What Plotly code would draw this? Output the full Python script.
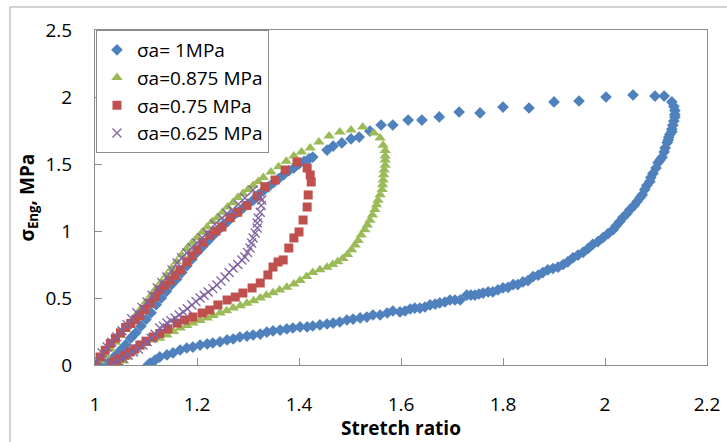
import plotly.graph_objects as go

# ---------------- data ----------------
names = ["σa= 1MPa", "σa=0.875 MPa", "σa=0.75 MPa", "σa=0.625 MPa"]

x_1mpa = [1.000,1.010,1.020,1.030,1.040,1.050,1.060,1.070,1.080,1.090,1.100,1.110,1.120,1.130,1.140,1.150,1.160,1.170,1.180,1.190,
          1.200,1.210,1.220,1.230,1.240,1.250,1.260,1.270,1.280,1.290,1.300,1.310,1.320,1.330,1.340,1.350,1.360,1.370,1.380,1.390,
          1.400,1.410,1.420,1.427,1.455,1.467,1.484,1.502,1.518,1.539,1.561,1.584,1.614,1.641,1.675,1.714,1.755,1.800,1.851,1.900,
          1.949,2.002,2.055,2.098,2.116,2.131,2.135,2.137,2.137,2.137,2.135,2.133,2.131,2.131,2.127,2.125,2.124,2.122,2.118,2.116,
          2.112,2.108,2.104,2.100,2.094,2.090,2.088,2.082,2.078,2.073,2.069,2.063,2.057,2.049,2.043,2.035,2.029,2.022,2.016,2.006,
          1.996,1.986,1.976,1.967,1.957,1.947,1.937,1.927,1.918,1.908,1.898,1.888,1.878,1.869,1.859,1.849,1.839,1.829,1.820,1.810,
          1.800,1.790,1.780,1.771,1.761,1.753,1.745,1.737,1.729,1.716,1.706,1.696,1.686,1.676,1.667,1.657,1.647,1.637,1.627,1.618,
          1.608,1.598,1.584,1.573,1.559,1.545,1.533,1.520,1.506,1.494,1.480,1.467,1.455,1.441,1.427,1.416,1.402,1.388,1.376,1.363,
          1.349,1.337,1.324,1.310,1.298,1.284,1.271,1.259,1.245,1.231,1.220,1.206,1.192,1.180,1.167,1.153,1.141,1.127,1.118,1.108,1.104]
y_1mpa = [0.000,0.000,0.010,0.030,0.070,0.110,0.150,0.200,0.240,0.290,0.340,0.390,0.450,0.500,0.550,0.600,0.640,0.690,0.740,0.790,
          0.840,0.880,0.920,0.960,1.000,1.040,1.070,1.110,1.140,1.170,1.200,1.230,1.270,1.300,1.330,1.360,1.390,1.420,1.450,1.470,
          1.500,1.520,1.540,1.552,1.604,1.634,1.657,1.687,1.701,1.746,1.791,1.791,1.828,1.828,1.851,1.888,1.881,1.925,1.918,1.963,
          1.970,2.000,2.015,2.007,2.007,1.963,1.930,1.900,1.870,1.850,1.820,1.790,1.760,1.740,1.720,1.700,1.680,1.660,1.620,1.590,
          1.550,1.530,1.510,1.470,1.430,1.400,1.370,1.340,1.310,1.270,1.250,1.220,1.190,1.160,1.130,1.100,1.070,1.040,1.010,0.980,
          0.950,0.920,0.900,0.870,0.840,0.820,0.800,0.770,0.750,0.730,0.720,0.710,0.690,0.670,0.660,0.630,0.620,0.600,0.600,0.580,
          0.575,0.560,0.545,0.545,0.537,0.530,0.522,0.522,0.522,0.485,0.485,0.485,0.470,0.463,0.455,0.448,0.433,0.425,0.425,0.418,
          0.403,0.396,0.403,0.388,0.373,0.373,0.358,0.351,0.343,0.336,0.321,0.313,0.306,0.299,0.291,0.284,0.284,0.276,0.269,0.261,
          0.254,0.246,0.231,0.224,0.216,0.209,0.194,0.187,0.172,0.164,0.157,0.149,0.134,0.127,0.112,0.090,0.075,0.060,0.037,0.015,0.000]

x_0875 = [1.000,1.010,1.020,1.030,1.040,1.050,1.060,1.070,1.080,1.090,1.100,1.110,1.120,1.130,1.140,1.150,1.160,1.170,1.180,1.190,
          1.200,1.210,1.220,1.230,1.240,1.250,1.260,1.270,1.280,1.290,1.300,1.310,1.320,1.330,1.345,1.360,1.375,1.390,1.405,1.422,
          1.439,1.459,1.480,1.502,1.525,1.547,1.559,1.565,1.569,1.569,1.569,1.569,1.567,1.566,1.565,1.564,1.563,1.559,1.555,1.552,
          1.549,1.544,1.539,1.534,1.529,1.522,1.516,1.510,1.503,1.495,1.486,1.476,1.466,1.455,1.441,1.427,1.415,1.402,1.390,1.376,
          1.362,1.349,1.336,1.324,1.311,1.298,1.285,1.271,1.258,1.245,1.232,1.220,1.206,1.192,1.180,1.167,1.154,1.141,1.127,1.114,
          1.100,1.088,1.075,1.063,1.056,1.049]
y_0875 = [0.000,0.030,0.070,0.120,0.170,0.220,0.270,0.320,0.370,0.420,0.470,0.520,0.570,0.620,0.670,0.720,0.770,0.820,0.870,0.910,
          0.950,0.990,1.030,1.070,1.100,1.140,1.180,1.210,1.250,1.280,1.310,1.340,1.370,1.400,1.440,1.480,1.520,1.560,1.590,1.620,
          1.664,1.709,1.739,1.754,1.776,1.731,1.694,1.640,1.600,1.560,1.530,1.490,1.455,1.420,1.380,1.345,1.310,1.270,1.230,1.195,
          1.160,1.120,1.080,1.045,1.010,0.970,0.930,0.895,0.860,0.825,0.795,0.770,0.750,0.730,0.710,0.690,0.660,0.630,0.605,0.580,
          0.560,0.540,0.520,0.500,0.480,0.460,0.443,0.425,0.405,0.388,0.370,0.351,0.332,0.313,0.295,0.276,0.250,0.224,0.200,0.187,
          0.160,0.134,0.097,0.060,0.030,0.000]

x_075 = [1.000,1.010,1.020,1.030,1.040,1.050,1.060,1.070,1.080,1.088,1.098,1.108,1.118,1.127,1.137,1.147,1.157,1.167,1.180,1.190,
         1.200,1.212,1.225,1.237,1.249,1.265,1.280,1.298,1.318,1.333,1.353,1.373,1.396,1.416,1.422,1.424,1.418,1.416,1.408,1.400,
         1.390,1.380,1.369,1.359,1.349,1.339,1.324,1.308,1.290,1.275,1.259,1.241,1.225,1.210,1.192,1.176,1.161,1.143,1.127,1.114,
         1.100,1.088,1.078,1.069,1.059,1.049,1.042,1.035]
y_075 = [0.000,0.060,0.110,0.160,0.200,0.240,0.280,0.310,0.340,0.370,0.415,0.460,0.510,0.560,0.595,0.630,0.670,0.710,0.770,0.815,
         0.860,0.915,0.970,1.000,1.030,1.100,1.140,1.190,1.260,1.330,1.380,1.455,1.515,1.470,1.418,1.366,1.269,1.179,1.082,0.993,
         0.948,0.873,0.784,0.769,0.731,0.672,0.612,0.575,0.537,0.507,0.485,0.448,0.410,0.388,0.358,0.336,0.313,0.270,0.235,0.209,
         0.178,0.149,0.120,0.097,0.073,0.052,0.035,0.020]

x_0625 = [1.000,1.004,1.014,1.024,1.033,1.043,1.053,1.063,1.072,1.082,1.092,1.102,1.112,1.122,1.131,1.141,1.151,1.161,1.170,1.180,
          1.190,1.200,1.210,1.220,1.235,1.249,1.259,1.269,1.281,1.294,1.310,1.322,1.327,1.326,1.324,1.320,1.318,1.318,1.314,1.310,
          1.307,1.304,1.299,1.294,1.288,1.280,1.271,1.263,1.255,1.247,1.239,1.231,1.222,1.214,1.206,1.198,1.190,1.181,1.173,1.165,
          1.157,1.149,1.141,1.134,1.127,1.118,1.110,1.102,1.094,1.085,1.075,1.065,1.055,1.045,1.035]
y_0625 = [0.000,0.040,0.090,0.134,0.170,0.210,0.255,0.300,0.345,0.390,0.430,0.470,0.520,0.575,0.615,0.657,0.710,0.761,0.800,0.836,
          0.875,0.910,0.950,0.985,1.050,1.097,1.130,1.157,1.200,1.246,1.306,1.260,1.231,1.190,1.140,1.097,1.060,1.022,0.985,0.948,
          0.910,0.873,0.840,0.806,0.784,0.750,0.724,0.690,0.657,0.627,0.597,0.570,0.545,0.520,0.500,0.474,0.448,0.420,0.396,0.373,
          0.351,0.330,0.313,0.290,0.276,0.230,0.200,0.175,0.149,0.120,0.097,0.075,0.052,0.032,0.015]

x_tickvals = [1.0, 1.2, 1.4, 1.6, 1.8, 2.0, 2.2]
x_ticktext = ["1", "1.2", "1.4", "1.6", "1.8", "2", "2.2"]
y_tickvals = [0, 0.5, 1.0, 1.5, 2.0, 2.5]
y_ticktext = ["0", "0.5", "1", "1.5", "2", "2.5"]

# ---------------- figure ----------------
FONT = "Open Sans"
FS = 19
colors = ["#4F81BD", "#9BBB59", "#C0504D", "#8064A2"]

fig = go.Figure()
fig.add_trace(go.Scatter(x=x_1mpa, y=y_1mpa, mode="markers", name=names[0],
                         marker=dict(symbol="diamond", size=9, color=colors[0])))
fig.add_trace(go.Scatter(x=x_0875, y=y_0875, mode="markers", name=names[1],
                         marker=dict(symbol="triangle-up", size=10, color=colors[1])))
fig.add_trace(go.Scatter(x=x_075, y=y_075, mode="markers", name=names[2],
                         marker=dict(symbol="square", size=9, color=colors[2])))
fig.add_trace(go.Scatter(x=x_0625, y=y_0625, mode="markers", name=names[3],
                         marker=dict(symbol="x-thin", size=9, color=colors[3],
                                     line=dict(color=colors[3], width=1.3))))

axis_common = dict(showgrid=False, zeroline=False, showline=True, mirror=True,
                   linecolor="#8c8c8c", linewidth=1, ticks="inside", ticklen=7,
                   tickcolor="#8c8c8c", tickfont=dict(family=FONT, size=FS, color="#000"))

fig.update_xaxes(range=[1.0, 2.2], tickvals=x_tickvals, ticktext=x_ticktext,
                 ticklabelstandoff=22, **axis_common)
fig.update_yaxes(range=[0, 2.5], tickvals=y_tickvals, ticktext=y_ticktext,
                 ticklabelstandoff=18, **axis_common)

fig.update_layout(
    width=727, height=442,
    margin=dict(l=95, r=20, t=30, b=77, autoexpand=False),
    paper_bgcolor="white", plot_bgcolor="white",
    font=dict(family=FONT, size=FS, color="#000"),
    showlegend=True,
    legend=dict(x=0.0016, y=1.0, xanchor="left", yanchor="top",
                bgcolor="white", bordercolor="#8c8c8c", borderwidth=1,
                font=dict(family=FONT, size=FS, color="#000"),
                tracegroupgap=0),
    annotations=[
        dict(text="<b>Stretch ratio</b>", xref="paper", yref="paper",
             x=0.5, y=-0.187, xanchor="center", yanchor="middle", showarrow=False,
             font=dict(family=FONT, size=FS, color="#000")),
        dict(text="<b>σ<sub>Eng</sub>, MPa</b>", xref="paper", yref="paper",
             x=-0.1095, y=0.5, xanchor="center", yanchor="middle", textangle=-90,
             showarrow=False, font=dict(family=FONT, size=FS, color="#000")),
    ],
    shapes=[
        dict(type="rect", xref="paper", yref="paper", x0=-0.1389, x1=1.5,
             y0=-0.5, y1=1.0687, line=dict(color="#a6a6a6", width=1),
             fillcolor="rgba(0,0,0,0)", layer="below"),
    ],
)

fig.write_html("out.html")
